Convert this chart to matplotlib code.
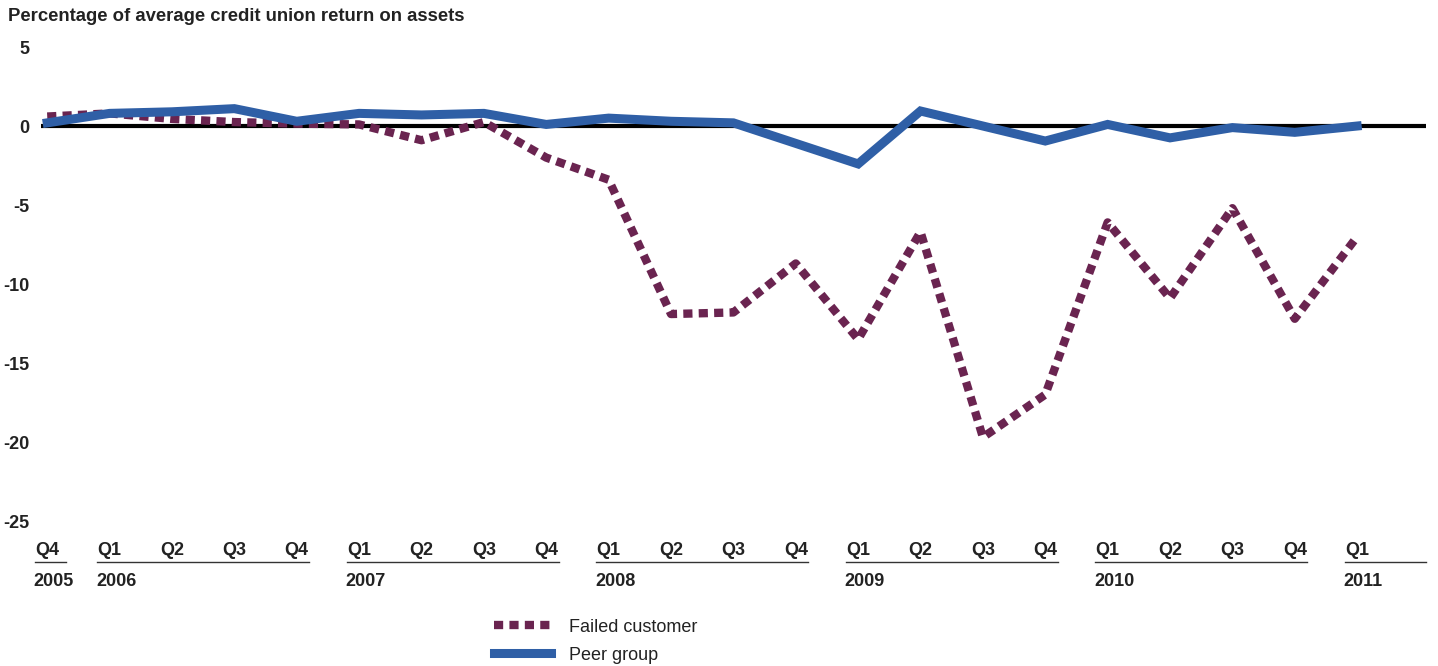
import matplotlib
matplotlib.use("Agg")
import matplotlib.pyplot as plt

plt.rcParams['font.family'] = ['Liberation Sans', 'DejaVu Sans']

quarters = ["Q4",
            "Q1", "Q2", "Q3", "Q4",
            "Q1", "Q2", "Q3", "Q4",
            "Q1", "Q2", "Q3", "Q4",
            "Q1", "Q2", "Q3", "Q4",
            "Q1", "Q2", "Q3", "Q4",
            "Q1"]
years = ["2005", "2006", "2007", "2008", "2009", "2010", "2011"]
# index of first and last quarter for each year
year_start = [0, 1, 5, 9, 13, 17, 21]
year_end = [0, 4, 8, 12, 16, 20, 21]

failed = [0.6, 0.8, 0.45, 0.25, 0.15, 0.1, -0.9, 0.25, -2.0, -3.4,
          -11.9, -11.8, -8.7, -13.5, -6.7, -19.7, -17.0, -6.1, -10.9,
          -5.2, -12.2, -7.0]
peer = [0.2, 0.8, 0.9, 1.1, 0.3, 0.8, 0.7, 0.8, 0.1, 0.5, 0.3, 0.2,
        -1.1, -2.4, 0.95, 0.0, -0.95, 0.1, -0.75, -0.1, -0.4, 0.0]

blue = "#2f5fa6"
maroon = "#6a2450"
text_col = "#222222"

fig = plt.figure(figsize=(14.38, 6.66), dpi=100)
ax = fig.add_axes([0.0285, 0.2177, 0.963, 0.7117])

x = list(range(len(quarters)))
ax.axhline(0, color="black", lw=3, zorder=1)
ax.plot(x, failed, color=maroon, lw=6, dashes=(1.1, 0.75),
        solid_capstyle="butt", dash_capstyle="butt", label="Failed customer", zorder=2)
ax.plot(x, peer, color=blue, lw=6.5, solid_joinstyle="miter",
        label="Peer group", zorder=3)

ax.set_xlim(-0.1, 22.1)
ax.set_ylim(-25, 5)
ax.set_yticks([5, 0, -5, -10, -15, -20, -25])
ax.set_yticklabels(["5", "0", "-5", "-10", "-15", "-20", "-25"],
                   fontsize=13, fontweight="bold", color=text_col)
ax.tick_params(axis="y", length=0, pad=8)
ax.set_xticks([])
for s in ax.spines.values():
    s.set_visible(False)

# quarter labels, year underline and year labels below the plot
tr = ax.get_xaxis_transform()
for i, q in enumerate(quarters):
    ax.text(i, -0.063, q, transform=tr, ha="center", va="center",
            fontsize=13, fontweight="bold", color=text_col)
for yr, a, b in zip(years, year_start, year_end):
    left = a - 0.2
    right = b + 0.2 if b < 21 else 22.1
    if a == 0:
        right = b + 0.3
    ax.plot([left, right], [-0.0865, -0.0865], transform=tr, color="#333333",
            lw=1, clip_on=False)
    ax.text(left - 0.02, -0.128, yr, transform=tr, ha="left", va="center",
            fontsize=13, fontweight="bold", color=text_col)

fig.text(0.0056, 0.975, "Percentage of average credit union return on assets",
         ha="left", va="center", fontsize=13.3, fontweight="bold", color=text_col)

ax.legend(loc="upper left", bbox_to_anchor=(0.3383, 0.082), bbox_transform=fig.transFigure,
          frameon=False, fontsize=13, handlelength=3.15, handletextpad=1.03,
          labelspacing=0.62, labelcolor=text_col, borderaxespad=0)

fig.savefig("out.png", dpi=100)
